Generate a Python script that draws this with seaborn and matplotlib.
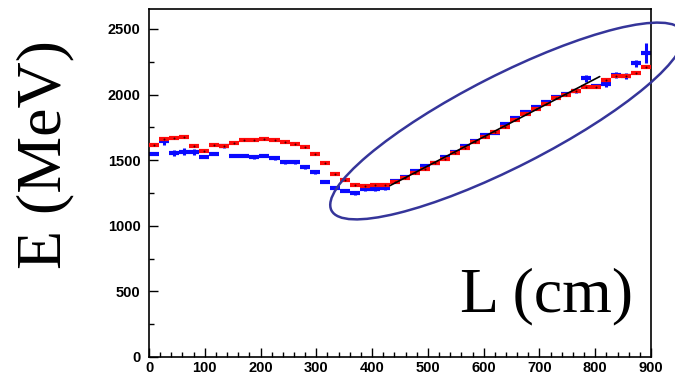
import numpy as np
import pandas as pd
import matplotlib
matplotlib.use("Agg")
import matplotlib.pyplot as plt
from matplotlib.patches import Ellipse
import seaborn as sns

# ---- data ----
bin_width = 18.0
L_centers = [9 + 18 * i for i in range(50)]

E_red = [1616, 1662, 1668, 1675, 1611, 1572, 1616, 1610, 1628, 1654,
         1654, 1662, 1654, 1641, 1623, 1603, 1547, 1476, 1395, 1349,
         1313, 1300, 1313, 1313, 1336, 1362, 1400, 1436, 1478, 1506,
         1552, 1590, 1636, 1674, 1712, 1755, 1803, 1850, 1890, 1926,
         1972, 1997, 2030, 2055, 2060, 2114, 2140, 2140, 2167, 2210]
err_red = [8] * 50

E_blue = [1547, 1645, 1555, 1565, 1560, 1525, 1547, 1605, 1535, 1535,
          1522, 1535, 1514, 1483, 1483, 1445, 1407, 1336, 1291, 1268,
          1248, 1278, 1278, 1286, 1340, 1370, 1418, 1452, 1482, 1522,
          1560, 1606, 1645, 1690, 1706, 1772, 1825, 1865, 1905, 1940,
          1985, 2004, 2024, 2124, 2065, 2084, 2148, 2143, 2238, 2315]
err_blue = [10, 32, 25, 25, 22, 10, 10, 10, 10, 10,
            10, 10, 10, 10, 10, 10, 10, 10, 10, 10,
            10, 10, 10, 10, 10, 10, 10, 10, 10, 10,
            10, 10, 10, 10, 10, 10, 10, 10, 10, 10,
            10, 10, 10, 28, 10, 25, 25, 22, 28, 75]

fit_L = [432, 808]
fit_E = [1306, 2137]

x_ticks = [0, 100, 200, 300, 400, 500, 600, 700, 800, 900]
y_ticks = [0, 500, 1000, 1500, 2000, 2500]

# ---- style ----
sns.set_theme(style="white")
plt.rcParams["font.family"] = ["Liberation Sans", "DejaVu Sans"]

W, H = 675, 380
fig = plt.figure(figsize=(W / 100, H / 100), dpi=100)
ax = fig.add_axes([149 / W, 1 - 357 / H, (651 - 149) / W, (357 - 9) / H])

df_red = pd.DataFrame({"L": L_centers, "E": E_red, "err": err_red})
df_blue = pd.DataFrame({"L": L_centers, "E": E_blue, "err": err_blue})
df_fit = pd.DataFrame({"L": fit_L, "E": fit_E})

half = bin_width / 2
# blue series
ax.errorbar(df_blue["L"], df_blue["E"], xerr=half, fmt="none",
            ecolor="#0a0aff", elinewidth=3.0, capsize=0, zorder=2)
ax.errorbar(df_blue["L"], df_blue["E"], yerr=df_blue["err"], fmt="none",
            ecolor="#0a0aff", elinewidth=2.2, capsize=0, zorder=2)
# red series
ax.errorbar(df_red["L"], df_red["E"], xerr=half, fmt="none",
            ecolor="#ff0a0a", elinewidth=3.0, capsize=0, zorder=3)
ax.errorbar(df_red["L"], df_red["E"], yerr=df_red["err"], fmt="none",
            ecolor="#ff0a0a", elinewidth=2.0, capsize=0, zorder=3)
sns.scatterplot(data=df_red, x="L", y="E", ax=ax, color="#400000", s=2,
                linewidth=0, zorder=4, legend=False)

# fit line
sns.lineplot(data=df_fit, x="L", y="E", ax=ax, color="black", lw=1.2,
             zorder=5, legend=False)

ax.set_xlim(0, 900)
ax.set_ylim(0, 2652)
ax.set_xticks(x_ticks)
ax.set_yticks(y_ticks)
ax.set_xticks(np.arange(0, 901, 20), minor=True)
ax.set_yticks(np.arange(0, 2651, 250), minor=True)
ax.set_xticklabels([str(v) for v in x_ticks])
ax.set_yticklabels([str(v) for v in y_ticks])
ax.set_xlabel("")
ax.set_ylabel("")
ax.tick_params(which="both", direction="in", colors="black",
               top=False, right=False, bottom=True, left=True)
ax.tick_params(which="major", length=6.5, width=1.0)
ax.tick_params(which="minor", length=3.3, width=1.0)
ax.tick_params(axis="x", which="major", pad=3)
ax.tick_params(axis="y", which="major", pad=6)
for lab in ax.get_xticklabels() + ax.get_yticklabels():
    lab.set_fontweight("bold")
    lab.set_fontsize(10.5)
for sp in ax.spines.values():
    sp.set_visible(True)
    sp.set_color("black")
    sp.set_linewidth(1.2)

# highlighting ellipse (in figure inches)
ell = Ellipse((507 / 100, (H - 121) / 100), width=3.94, height=0.92, angle=27,
              transform=fig.dpi_scale_trans, fill=False,
              edgecolor="#35359a", lw=1.8, zorder=10)
fig.add_artist(ell)

serif = ["Liberation Serif", "DejaVu Serif"]
fig.text(45 / W, 1 - 155 / H, "E (MeV)", rotation=90, fontsize=46,
         family=serif, ha="center", va="center", color="black")
fig.text(546 / W, 1 - 296 / H, "L (cm)", fontsize=46, family=serif,
         ha="center", va="center", color="black")

fig.savefig("out.png", dpi=100)
